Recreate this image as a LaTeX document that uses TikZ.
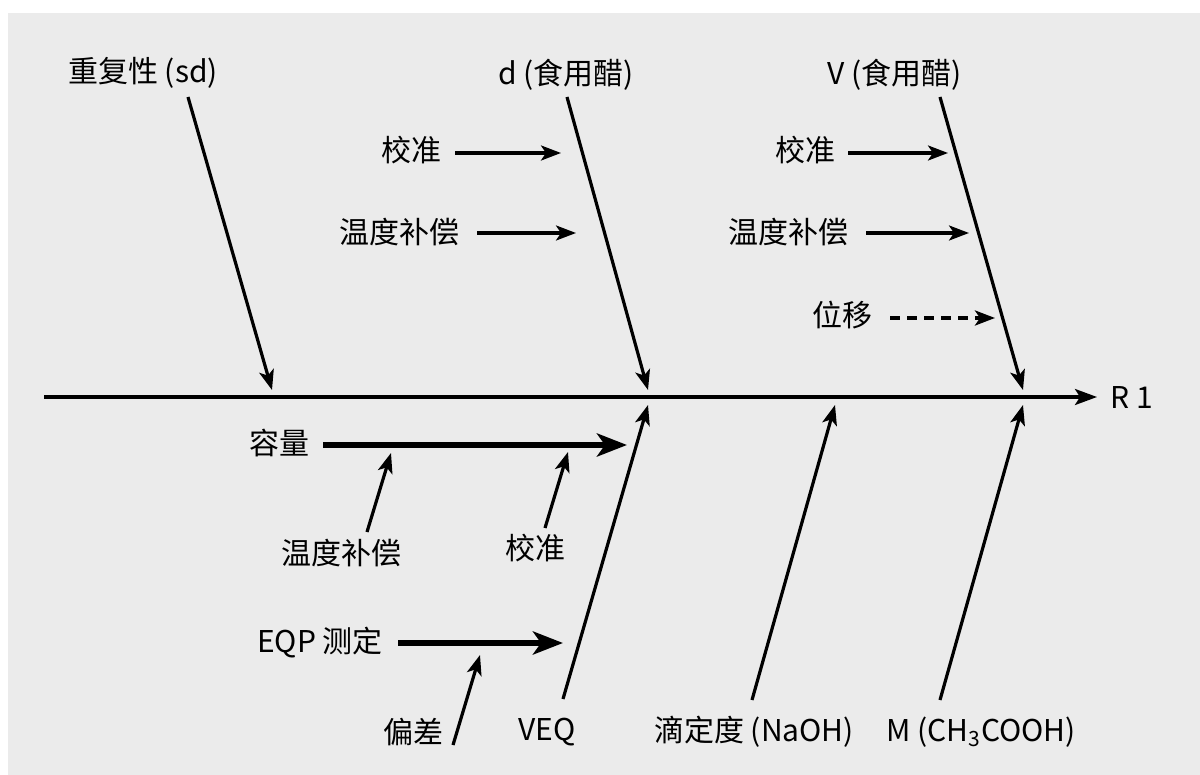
\documentclass[tikz,border=0pt]{standalone}
\usepackage{fontspec}
\setmainfont{Noto Sans CJK SC}
\usetikzlibrary{arrows.meta}
\definecolor{bggray}{HTML}{EBEBEB}
\tikzset{
  lbl/.style={inner sep=0pt, font=\fontsize{15}{18}\selectfont, text=black},
  arr/.style={line width=1.6pt, draw=black, -{Stealth[length=10pt,width=7.5pt,inset=2.5pt]}},
  mainarr/.style={line width=1.6pt, draw=black, -{Stealth[length=11pt,width=8pt,inset=2.5pt]}},
  thickarr/.style={line width=2.8pt, draw=black, -{Stealth[length=15pt,width=11.5pt,inset=4pt]}},
  dasharr/.style={line width=1.8pt, draw=black, dash pattern=on 5pt off 3.5pt, -{Stealth[length=10pt,width=7.5pt,inset=2.5pt]}},
}
\begin{document}
\begin{tikzpicture}[x=0.5pt,y=-0.5pt]
\useasboundingbox (0,0) rectangle (1200,775);
\fill[bggray] (8,13) rectangle (1200,775);

% main spine
\coordinate (m0) at (44,397);
\coordinate (m1) at (1097,397);
\draw[mainarr] (m0) -- (m1);
\node[lbl] (r1) at (1132,398) {R 1};

% upper branches
\node[lbl] (rep) at (143,73) {重复性 (sd)};
\node[lbl] (dvin) at (566,75) {d (食用醋)};
\node[lbl] (vvin) at (895,75) {V (食用醋)};
\coordinate (b1s) at (188,97);  \coordinate (b1e) at (272,390);
\coordinate (b2s) at (567,97);  \coordinate (b2e) at (648,390);
\coordinate (b3s) at (940,97);  \coordinate (b3e) at (1023,390);
\draw[arr] (b1s) -- (b1e);
\draw[arr] (b2s) -- (b2e);
\draw[arr] (b3s) -- (b3e);

% sub-causes of d
\node[lbl] (cal1) at (411,150) {校准};
\coordinate (cal1s) at (455,153); \coordinate (cal1e) at (561,153);
\draw[arr] (cal1s) -- (cal1e);
\node[lbl] (tc1) at (399.5,232) {温度补偿};
\coordinate (tc1s) at (477,233); \coordinate (tc1e) at (576,233);
\draw[arr] (tc1s) -- (tc1e);

% sub-causes of V
\node[lbl] (cal2) at (805,150) {校准};
\coordinate (cal2s) at (848,153); \coordinate (cal2e) at (948,153);
\draw[arr] (cal2s) -- (cal2e);
\node[lbl] (tc2) at (788,232) {温度补偿};
\coordinate (tc2s) at (866,233); \coordinate (tc2e) at (969,233);
\draw[arr] (tc2s) -- (tc2e);
\node[lbl] (disp) at (842,315) {位移};
\coordinate (disps) at (890,318); \coordinate (dispe) at (995,318);
\draw[dasharr] (disps) -- (dispe);

% lower left: volume
\node[lbl] (vol) at (279,443) {容量};
\coordinate (vols) at (323,445); \coordinate (vole) at (627,445);
\draw[thickarr] (vols) -- (vole);
\node[lbl] (tc3) at (341,553) {温度补偿};
\coordinate (tc3s) at (367,532); \coordinate (tc3e) at (391,453);
\draw[arr] (tc3s) -- (tc3e);
\node[lbl] (cal3) at (535,548) {校准};
\coordinate (cal3s) at (545,528); \coordinate (cal3e) at (568,452);
\draw[arr] (cal3s) -- (cal3e);

% EQP
\node[lbl] (eqp) at (320,643) {EQP 测定};
\coordinate (eqps) at (398,643); \coordinate (eqpe) at (563,643);
\draw[thickarr] (eqps) -- (eqpe);
\node[lbl] (bias) at (413,732) {偏差};
\coordinate (biass) at (453,745); \coordinate (biase) at (480,655);
\draw[arr] (biass) -- (biase);

% lower branches
\node[lbl] (veq) at (547,732) {VEQ};
\coordinate (l1s) at (563,699); \coordinate (l1e) at (648,405);
\draw[arr] (l1s) -- (l1e);
\node[lbl] (tit) at (754,732) {滴定度 (NaOH)};
\coordinate (l2s) at (752,700); \coordinate (l2e) at (835,405);
\draw[arr] (l2s) -- (l2e);
\node[lbl] (mm) at (981,732) {M (CH\textsubscript{3}COOH)};
\coordinate (l3s) at (940,700); \coordinate (l3e) at (1023,405);
\draw[arr] (l3s) -- (l3e);
\end{tikzpicture}
\end{document}
